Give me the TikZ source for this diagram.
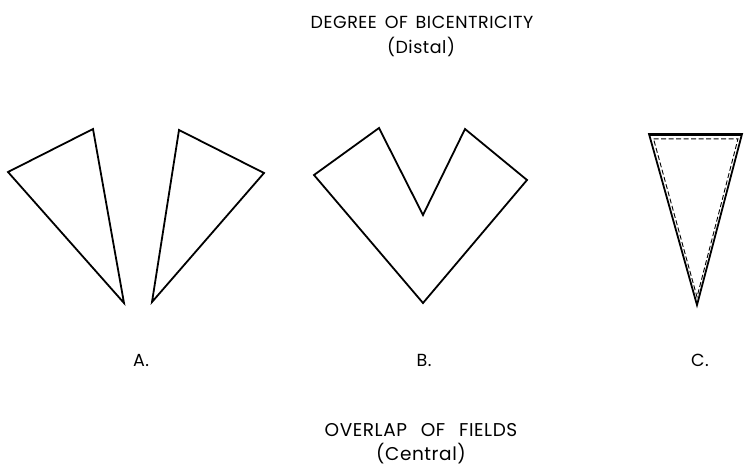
\documentclass[tikz,border=0pt]{standalone}
\usepackage{fontspec}
\setmainfont{Poppins}[LetterSpace=3]
\begin{document}
\begin{tikzpicture}[x=1pt,y=-1pt,
  outl/.style={line width=1.8pt,line join=miter},
  innerdash/.style={line width=0.9pt,dash pattern=on 5pt off 2.5pt},
  lbl/.style={font=\fontsize{17.5}{20}\selectfont,inner sep=0pt,anchor=base}]
\useasboundingbox (0,0) rectangle (744,475);
% A
\draw[outl] (8,172) -- (93,129) -- (124,303) -- cycle;
\draw[outl] (179,130) -- (264,173) -- (152,302) -- cycle;
% B
\draw[outl] (314,175) -- (379,128) -- (423,215) -- (465,129) -- (527,180) -- (423,303) -- cycle;
% C
\draw[outl] (649,134) -- (742,134) -- (697,305) -- cycle;
\draw[line width=1.6pt] (649,135.6) -- (742,135.6);
\draw[innerdash] (653.5,138.8) -- (738,138.8) -- (697,297) -- cycle;
% texts
\node[lbl] (t1) at (422,28) {DEGREE\hspace{0.45em}OF\hspace{0.45em}BICENTRICITY};
\node[lbl] (t2) at (421,53) {(Distal)};
\node[lbl] (la) at (141,366) {A.};
\node[lbl] (lb) at (424,366) {B.};
\node[lbl] (lc) at (700,366) {C.};
\node[lbl,font=\fontsize{18.5}{20}\selectfont] (t3) at (421,436) {OVERLAP\hspace{0.75em}OF\hspace{0.75em}FIELDS};
\node[lbl,font=\fontsize{18.5}{20}\selectfont] (t4) at (421,460) {(Central)};
\end{tikzpicture}
\end{document}
